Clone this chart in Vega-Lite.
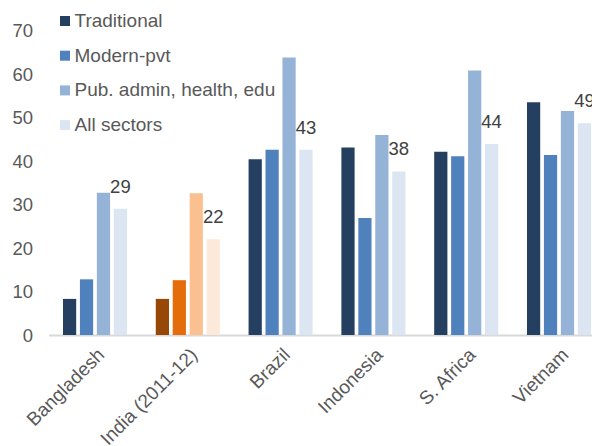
{
  "$schema": "https://vega.github.io/schema/vega-lite/v6.json",
  "width": 543.5,
  "height": 304.5,
  "autosize": {"type": "none"},
  "padding": {"left": 48.5, "top": 30.5, "right": 0, "bottom": 111},
  "config": {"view": {"stroke": null}, "font": "Liberation Sans"},
  "data": {
    "values": [
      {"country": "Bangladesh", "sector": "Traditional", "value": 8.3},
      {"country": "Bangladesh", "sector": "Modern-pvt", "value": 12.8},
      {"country": "Bangladesh", "sector": "Pub. admin, health, edu", "value": 32.7},
      {"country": "Bangladesh", "sector": "All sectors", "value": 29.0},
      {"country": "India (2011-12)", "sector": "Traditional", "value": 8.3},
      {"country": "India (2011-12)", "sector": "Modern-pvt", "value": 12.6},
      {"country": "India (2011-12)", "sector": "Pub. admin, health, edu", "value": 32.6},
      {"country": "India (2011-12)", "sector": "All sectors", "value": 22.0},
      {"country": "Brazil", "sector": "Traditional", "value": 40.4},
      {"country": "Brazil", "sector": "Modern-pvt", "value": 42.6},
      {"country": "Brazil", "sector": "Pub. admin, health, edu", "value": 63.8},
      {"country": "Brazil", "sector": "All sectors", "value": 42.6},
      {"country": "Indonesia", "sector": "Traditional", "value": 43.1},
      {"country": "Indonesia", "sector": "Modern-pvt", "value": 26.9},
      {"country": "Indonesia", "sector": "Pub. admin, health, edu", "value": 46.0},
      {"country": "Indonesia", "sector": "All sectors", "value": 37.6},
      {"country": "S. Africa", "sector": "Traditional", "value": 42.1},
      {"country": "S. Africa", "sector": "Modern-pvt", "value": 41.1},
      {"country": "S. Africa", "sector": "Pub. admin, health, edu", "value": 60.8},
      {"country": "S. Africa", "sector": "All sectors", "value": 43.9},
      {"country": "Vietnam", "sector": "Traditional", "value": 53.5},
      {"country": "Vietnam", "sector": "Modern-pvt", "value": 41.4},
      {"country": "Vietnam", "sector": "Pub. admin, health, edu", "value": 51.5},
      {"country": "Vietnam", "sector": "All sectors", "value": 48.7}
    ]
  },
  "encoding": {
    "x": {
      "field": "country",
      "type": "nominal",
      "sort": ["Bangladesh", "India (2011-12)", "Brazil", "Indonesia", "S. Africa", "Vietnam"],
      "scale": {"range": [0, 557], "paddingInner": 0.31, "paddingOuter": 0.156},
      "axis": {
        "title": null,
        "labelAngle": -45,
        "labelFontSize": 19,
        "labelColor": "#595959",
        "ticks": false,
        "labelPadding": 10,
        "domainColor": "#D9D9D9",
        "domainWidth": 2
      }
    },
    "xOffset": {
      "field": "sector",
      "type": "nominal",
      "sort": ["Traditional", "Modern-pvt", "Pub. admin, health, edu", "All sectors"],
      "scale": {"domain": ["Traditional", "Modern-pvt", "Pub. admin, health, edu", "All sectors"], "paddingInner": 0.22, "paddingOuter": 0}
    },
    "y": {
      "field": "value",
      "type": "quantitative",
      "scale": {"domain": [0, 70], "nice": false},
      "axis": {
        "title": null,
        "grid": false,
        "domain": false,
        "ticks": false,
        "values": [0, 10, 20, 30, 40, 50, 60, 70],
        "labelFontSize": 18.5,
        "labelColor": "#595959",
        "labelPadding": 16
      }
    }
  },
  "layer": [
    {
      "transform": [{"filter": "datum.country !== 'India (2011-12)'"}],
      "mark": {"type": "bar"},
      "encoding": {
        "color": {
          "field": "sector",
          "type": "nominal",
          "scale": {
            "domain": ["Traditional", "Modern-pvt", "Pub. admin, health, edu", "All sectors"],
            "range": ["#243F60", "#4F81BD", "#95B3D7", "#DCE6F2"]
          },
          "legend": {
            "title": null,
            "orient": "none",
            "legendX": 7,
            "legendY": -19,
            "direction": "vertical",
            "labelFontSize": 19,
            "labelColor": "#595959",
            "symbolType": "square",
            "symbolSize": 100,
            "symbolStrokeWidth": 0,
            "rowPadding": 14.7,
            "labelOffset": 0,
            "labelLimit": 0
          }
        }
      }
    },
    {
      "transform": [{"filter": "datum.country === 'India (2011-12)'"}],
      "mark": {"type": "bar"},
      "encoding": {
        "color": {
          "field": "sector",
          "type": "nominal",
          "scale": {
            "domain": ["Traditional", "Modern-pvt", "Pub. admin, health, edu", "All sectors"],
            "range": ["#974806", "#E46C0A", "#FAC090", "#FDE9D9"]
          },
          "legend": null
        }
      }
    },
    {
      "transform": [{"filter": "datum.sector === 'All sectors'"}],
      "mark": {"type": "text", "fontSize": 18.5, "color": "#404040", "baseline": "middle", "dy": -22},
      "encoding": {
        "text": {"field": "value", "type": "quantitative", "format": ".0f"}
      }
    }
  ],
  "resolve": {"scale": {"color": "independent"}}
}
